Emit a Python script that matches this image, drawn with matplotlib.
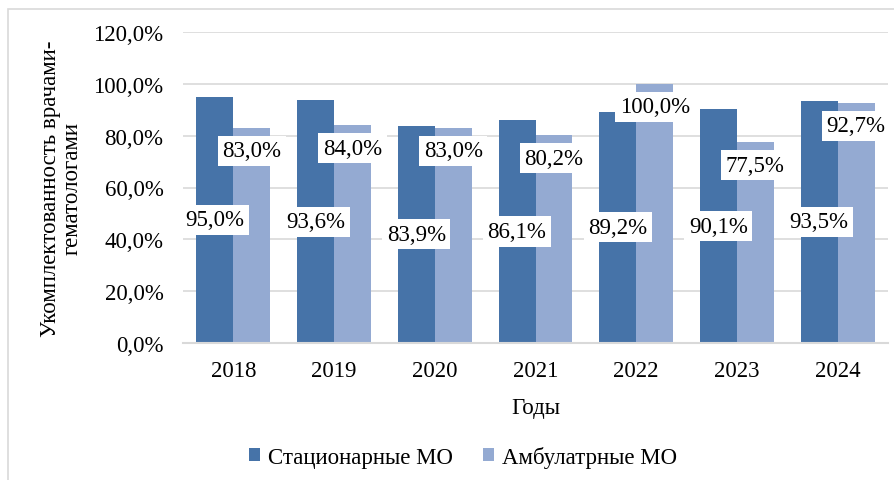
import matplotlib.pyplot as plt
import matplotlib.patches as mpatches
import numpy as np

plt.rcParams['font.family'] = ['Liberation Serif', 'DejaVu Serif']

years = ['2018', '2019', '2020', '2021', '2022', '2023', '2024']
stac = [95.0, 93.6, 83.9, 86.1, 89.2, 90.1, 93.5]   # Стационарные МО
ambu = [83.0, 84.0, 83.0, 80.2, 100.0, 77.5, 92.7]  # Амбулатрные МО

c_dark = '#4673A8'
c_light = '#94AAD2'
fs = 16.5

fig = plt.figure(figsize=(8.95, 4.81), dpi=100)
ax = fig.add_axes([183/895, 1-344/481, 705/895, (344-33)/481])

x = np.arange(len(years))
w = 0.367
b1 = ax.bar(x - w/2, stac, w, color=c_dark, label='Стационарные МО', zorder=2)
b2 = ax.bar(x + w/2, ambu, w, color=c_light, label='Амбулатрные МО', zorder=2)

box = dict(boxstyle='square,pad=0.2', fc='white', ec='none')
for xi, v in zip(x, stac):
    ax.text(xi - w/2, v/2, f'{v:.1f}%'.replace('.', ','), ha='center', va='center',
            fontsize=fs, bbox=box, zorder=5)
for xi, v in zip(x, ambu):
    ax.annotate(f'{v:.1f}%'.replace('.', ','), (xi + w/2, v), xytext=(0, -9),
                textcoords='offset points', ha='center', va='top',
                fontsize=fs, bbox=box, zorder=5)

ax.set_xlim(-0.5, len(years) - 0.5)
ax.set_ylim(0, 120)
ax.set_yticks(np.arange(0, 121, 20))
ax.set_yticklabels([f'{t:.1f}%'.replace('.', ',') for t in np.arange(0, 121, 20)], fontsize=fs)
ax.set_xticks(x)
ax.set_xticklabels(years, fontsize=fs)
ax.tick_params(length=0, pad=14)
ax.tick_params(axis='x', pad=12)
ax.grid(axis='y', color='#d9d9d9', linewidth=1.2, zorder=0)
ax.set_axisbelow(True)
for s in ['top', 'right', 'left']:
    ax.spines[s].set_visible(False)
ax.spines['bottom'].set_color('#d9d9d9')
ax.spines['bottom'].set_linewidth(1.5)

ax.set_xlabel('Годы', fontsize=fs, labelpad=12)
ax.set_ylabel('Укомплектованность врачами-\nгематологами', fontsize=fs, labelpad=8,
              linespacing=1.0)

fig.legend(handles=[b1, b2], loc='center', bbox_to_anchor=(463/895, 1-458/481),
           ncol=2, frameon=False, fontsize=fs, handlelength=0.5, handleheight=0.5,
           handletextpad=0.35, columnspacing=1.3)

border = mpatches.Rectangle((8/895, -0.1), 1.2, 1 - 10/481 + 0.1, transform=fig.transFigure,
                            fill=False, ec='#d9d9d9', lw=1.2)
fig.patches.append(border)

fig.savefig('out.png', dpi=100)
